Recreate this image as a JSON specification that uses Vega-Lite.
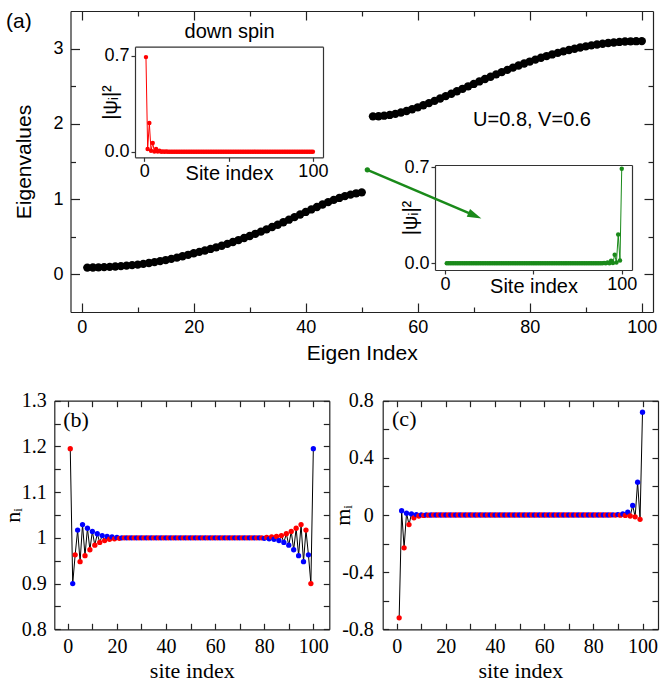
{
"$schema":"https://vega.github.io/schema/vega-lite/v6.json",
"width":663,"height":682,"autosize":"none","padding":0,"background":"white",
"config":{"view":{"stroke":null},"axis":{"grid":false,"ticks":true,"tickOpacity":1,"labelFlush":false,"labelOverlap":false,"domainColor":"#222","tickColor":"#222","labelColor":"#000","titleColor":"#000","titleFontWeight":"normal","labelFont":"Liberation Sans","titleFont":"Liberation Sans","domainWidth":1.2,"tickWidth":1.2}},
"datasets":{
"eig":[{"n":1,"E":0.090},{"n":2,"E":0.091},{"n":3,"E":0.093},{"n":4,"E":0.096},{"n":5,"E":0.100},{"n":6,"E":0.105},{"n":7,"E":0.110},{"n":8,"E":0.116},{"n":9,"E":0.123},{"n":10,"E":0.130},{"n":11,"E":0.140},{"n":12,"E":0.151},{"n":13,"E":0.163},{"n":14,"E":0.176},{"n":15,"E":0.190},{"n":16,"E":0.206},{"n":17,"E":0.223},{"n":18,"E":0.241},{"n":19,"E":0.260},{"n":20,"E":0.280},{"n":21,"E":0.299},{"n":22,"E":0.318},{"n":23,"E":0.338},{"n":24,"E":0.359},{"n":25,"E":0.380},{"n":26,"E":0.405},{"n":27,"E":0.430},{"n":28,"E":0.456},{"n":29,"E":0.483},{"n":30,"E":0.510},{"n":31,"E":0.539},{"n":32,"E":0.568},{"n":33,"E":0.598},{"n":34,"E":0.629},{"n":35,"E":0.660},{"n":36,"E":0.693},{"n":37,"E":0.727},{"n":38,"E":0.761},{"n":39,"E":0.795},{"n":40,"E":0.830},{"n":41,"E":0.863},{"n":42,"E":0.896},{"n":43,"E":0.928},{"n":44,"E":0.960},{"n":45,"E":0.990},{"n":46,"E":1.016},{"n":47,"E":1.040},{"n":48,"E":1.060},{"n":49,"E":1.077},{"n":50,"E":1.090},
{"n":52,"E":2.100},{"n":53,"E":2.102},{"n":54,"E":2.109},{"n":55,"E":2.119},{"n":56,"E":2.133},{"n":57,"E":2.151},{"n":58,"E":2.171},{"n":59,"E":2.194},{"n":60,"E":2.220},{"n":61,"E":2.247},{"n":62,"E":2.276},{"n":63,"E":2.306},{"n":64,"E":2.337},{"n":65,"E":2.369},{"n":66,"E":2.401},{"n":67,"E":2.433},{"n":68,"E":2.466},{"n":69,"E":2.499},{"n":70,"E":2.531},{"n":71,"E":2.564},{"n":72,"E":2.596},{"n":73,"E":2.627},{"n":74,"E":2.658},{"n":75,"E":2.688},{"n":76,"E":2.718},{"n":77,"E":2.747},{"n":78,"E":2.775},{"n":79,"E":2.802},{"n":80,"E":2.828},{"n":81,"E":2.854},{"n":82,"E":2.878},{"n":83,"E":2.901},{"n":84,"E":2.923},{"n":85,"E":2.944},{"n":86,"E":2.963},{"n":87,"E":2.982},{"n":88,"E":2.999},{"n":89,"E":3.015},{"n":90,"E":3.030},{"n":91,"E":3.043},{"n":92,"E":3.055},{"n":93,"E":3.065},{"n":94,"E":3.074},{"n":95,"E":3.082},{"n":96,"E":3.089},{"n":97,"E":3.094},{"n":98,"E":3.097},{"n":99,"E":3.099},{"n":100,"E":3.100}],
"psi":[{"site":1,"down":0.69,"up":0},{"site":2,"down":0.02,"up":0},{"site":3,"down":0.21,"up":0},{"site":4,"down":0.006,"up":0},{"site":5,"down":0.063,"up":0},{"site":6,"down":0.002,"up":0},{"site":7,"down":0.019,"up":0},{"site":8,"down":0.0006,"up":0},{"site":9,"down":0.006,"up":0},{"site":10,"down":0.0002,"up":0},{"site":11,"down":0.002,"up":0},{"site":12,"down":0,"up":0},{"site":13,"down":0.0006,"up":0},{"site":14,"down":0,"up":0},{"site":15,"down":0,"up":0},{"site":16,"down":0,"up":0},{"site":17,"down":0,"up":0},{"site":18,"down":0,"up":0},{"site":19,"down":0,"up":0},{"site":20,"down":0,"up":0},{"site":21,"down":0,"up":0},{"site":22,"down":0,"up":0},{"site":23,"down":0,"up":0},{"site":24,"down":0,"up":0},{"site":25,"down":0,"up":0},{"site":26,"down":0,"up":0},{"site":27,"down":0,"up":0},{"site":28,"down":0,"up":0},{"site":29,"down":0,"up":0},{"site":30,"down":0,"up":0},{"site":31,"down":0,"up":0},{"site":32,"down":0,"up":0},{"site":33,"down":0,"up":0},{"site":34,"down":0,"up":0},{"site":35,"down":0,"up":0},{"site":36,"down":0,"up":0},{"site":37,"down":0,"up":0},{"site":38,"down":0,"up":0},{"site":39,"down":0,"up":0},{"site":40,"down":0,"up":0},{"site":41,"down":0,"up":0},{"site":42,"down":0,"up":0},{"site":43,"down":0,"up":0},{"site":44,"down":0,"up":0},{"site":45,"down":0,"up":0},{"site":46,"down":0,"up":0},{"site":47,"down":0,"up":0},{"site":48,"down":0,"up":0},{"site":49,"down":0,"up":0},{"site":50,"down":0,"up":0},{"site":51,"down":0,"up":0},{"site":52,"down":0,"up":0},{"site":53,"down":0,"up":0},{"site":54,"down":0,"up":0},{"site":55,"down":0,"up":0},{"site":56,"down":0,"up":0},{"site":57,"down":0,"up":0},{"site":58,"down":0,"up":0},{"site":59,"down":0,"up":0},{"site":60,"down":0,"up":0},{"site":61,"down":0,"up":0},{"site":62,"down":0,"up":0},{"site":63,"down":0,"up":0},{"site":64,"down":0,"up":0},{"site":65,"down":0,"up":0},{"site":66,"down":0,"up":0},{"site":67,"down":0,"up":0},{"site":68,"down":0,"up":0},{"site":69,"down":0,"up":0},{"site":70,"down":0,"up":0},{"site":71,"down":0,"up":0},{"site":72,"down":0,"up":0},{"site":73,"down":0,"up":0},{"site":74,"down":0,"up":0},{"site":75,"down":0,"up":0},{"site":76,"down":0,"up":0},{"site":77,"down":0,"up":0},{"site":78,"down":0,"up":0},{"site":79,"down":0,"up":0},{"site":80,"down":0,"up":0},{"site":81,"down":0,"up":0},{"site":82,"down":0,"up":0},{"site":83,"down":0,"up":0},{"site":84,"down":0,"up":0},{"site":85,"down":0,"up":0},{"site":86,"down":0,"up":0},{"site":87,"down":0,"up":0},{"site":88,"down":0,"up":0.0006},{"site":89,"down":0,"up":0},{"site":90,"down":0,"up":0.002},{"site":91,"down":0,"up":0.0002},{"site":92,"down":0,"up":0.006},{"site":93,"down":0,"up":0.0006},{"site":94,"down":0,"up":0.019},{"site":95,"down":0,"up":0.002},{"site":96,"down":0,"up":0.063},{"site":97,"down":0,"up":0.006},{"site":98,"down":0,"up":0.21},{"site":99,"down":0,"up":0.02},{"site":100,"down":0,"up":0.69}],
"nm":[{"site":1,"n":1.195,"m":-0.72,"sub":"A"},{"site":2,"n":0.900,"m":0.03,"sub":"B"},{"site":3,"n":0.963,"m":-0.23,"sub":"A"},{"site":4,"n":1.017,"m":0.013,"sub":"B"},{"site":5,"n":0.948,"m":-0.067,"sub":"A"},{"site":6,"n":1.029,"m":0.007,"sub":"B"},{"site":7,"n":0.961,"m":-0.02,"sub":"A"},{"site":8,"n":1.021,"m":0.003,"sub":"B"},{"site":9,"n":0.974,"m":-0.007,"sub":"A"},{"site":10,"n":1.014,"m":0.001,"sub":"B"},{"site":11,"n":0.984,"m":-0.003,"sub":"A"},{"site":12,"n":1.009,"m":0.0005,"sub":"B"},{"site":13,"n":0.990,"m":-0.001,"sub":"A"},{"site":14,"n":1.005,"m":0,"sub":"B"},{"site":15,"n":0.994,"m":0,"sub":"A"},{"site":16,"n":1.003,"m":0,"sub":"B"},{"site":17,"n":0.997,"m":0,"sub":"A"},{"site":18,"n":1.002,"m":0,"sub":"B"},{"site":19,"n":0.998,"m":0,"sub":"A"},{"site":20,"n":1.001,"m":0,"sub":"B"},{"site":21,"n":0.999,"m":0,"sub":"A"},{"site":22,"n":1.0,"m":0,"sub":"B"},{"site":23,"n":1.0,"m":0,"sub":"A"},{"site":24,"n":1.0,"m":0,"sub":"B"},{"site":25,"n":1.0,"m":0,"sub":"A"},{"site":26,"n":1.0,"m":0,"sub":"B"},{"site":27,"n":1.0,"m":0,"sub":"A"},{"site":28,"n":1.0,"m":0,"sub":"B"},{"site":29,"n":1.0,"m":0,"sub":"A"},{"site":30,"n":1.0,"m":0,"sub":"B"},{"site":31,"n":1.0,"m":0,"sub":"A"},{"site":32,"n":1.0,"m":0,"sub":"B"},{"site":33,"n":1.0,"m":0,"sub":"A"},{"site":34,"n":1.0,"m":0,"sub":"B"},{"site":35,"n":1.0,"m":0,"sub":"A"},{"site":36,"n":1.0,"m":0,"sub":"B"},{"site":37,"n":1.0,"m":0,"sub":"A"},{"site":38,"n":1.0,"m":0,"sub":"B"},{"site":39,"n":1.0,"m":0,"sub":"A"},{"site":40,"n":1.0,"m":0,"sub":"B"},{"site":41,"n":1.0,"m":0,"sub":"A"},{"site":42,"n":1.0,"m":0,"sub":"B"},{"site":43,"n":1.0,"m":0,"sub":"A"},{"site":44,"n":1.0,"m":0,"sub":"B"},{"site":45,"n":1.0,"m":0,"sub":"A"},{"site":46,"n":1.0,"m":0,"sub":"B"},{"site":47,"n":1.0,"m":0,"sub":"A"},{"site":48,"n":1.0,"m":0,"sub":"B"},{"site":49,"n":1.0,"m":0,"sub":"A"},{"site":50,"n":1.0,"m":0,"sub":"B"},{"site":51,"n":1.0,"m":0,"sub":"A"},{"site":52,"n":1.0,"m":0,"sub":"B"},{"site":53,"n":1.0,"m":0,"sub":"A"},{"site":54,"n":1.0,"m":0,"sub":"B"},{"site":55,"n":1.0,"m":0,"sub":"A"},{"site":56,"n":1.0,"m":0,"sub":"B"},{"site":57,"n":1.0,"m":0,"sub":"A"},{"site":58,"n":1.0,"m":0,"sub":"B"},{"site":59,"n":1.0,"m":0,"sub":"A"},{"site":60,"n":1.0,"m":0,"sub":"B"},{"site":61,"n":1.0,"m":0,"sub":"A"},{"site":62,"n":1.0,"m":0,"sub":"B"},{"site":63,"n":1.0,"m":0,"sub":"A"},{"site":64,"n":1.0,"m":0,"sub":"B"},{"site":65,"n":1.0,"m":0,"sub":"A"},{"site":66,"n":1.0,"m":0,"sub":"B"},{"site":67,"n":1.0,"m":0,"sub":"A"},{"site":68,"n":1.0,"m":0,"sub":"B"},{"site":69,"n":1.0,"m":0,"sub":"A"},{"site":70,"n":1.0,"m":0,"sub":"B"},{"site":71,"n":1.0,"m":0,"sub":"A"},{"site":72,"n":1.0,"m":0,"sub":"B"},{"site":73,"n":1.0,"m":0,"sub":"A"},{"site":74,"n":1.0,"m":0,"sub":"B"},{"site":75,"n":1.0,"m":0,"sub":"A"},{"site":76,"n":1.0,"m":0,"sub":"B"},{"site":77,"n":1.0,"m":0,"sub":"A"},{"site":78,"n":1.0,"m":0,"sub":"B"},{"site":79,"n":1.0,"m":0,"sub":"A"},{"site":80,"n":0.999,"m":0,"sub":"B"},{"site":81,"n":1.001,"m":0,"sub":"A"},{"site":82,"n":0.998,"m":0,"sub":"B"},{"site":83,"n":1.002,"m":0,"sub":"A"},{"site":84,"n":0.997,"m":0,"sub":"B"},{"site":85,"n":1.003,"m":0,"sub":"A"},{"site":86,"n":0.994,"m":0,"sub":"B"},{"site":87,"n":1.005,"m":0,"sub":"A"},{"site":88,"n":0.990,"m":0.001,"sub":"B"},{"site":89,"n":1.009,"m":-0.0005,"sub":"A"},{"site":90,"n":0.984,"m":0.003,"sub":"B"},{"site":91,"n":1.014,"m":-0.001,"sub":"A"},{"site":92,"n":0.974,"m":0.007,"sub":"B"},{"site":93,"n":1.021,"m":-0.003,"sub":"A"},{"site":94,"n":0.961,"m":0.02,"sub":"B"},{"site":95,"n":1.029,"m":-0.007,"sub":"A"},{"site":96,"n":0.948,"m":0.067,"sub":"B"},{"site":97,"n":1.017,"m":-0.013,"sub":"A"},{"site":98,"n":0.963,"m":0.23,"sub":"B"},{"site":99,"n":0.900,"m":-0.03,"sub":"A"},{"site":100,"n":1.195,"m":0.72,"sub":"B"}]
},
"layer":[
{
"data":{"name":"eig"},
"encoding":{
"x":{"field":"n","type":"quantitative","scale":{"domain":[-2,102],"range":[70.5,653],"nice":false,"zero":false},"axis":{"orient":"bottom","offset":-370,"values":[0,20,40,60,80,100],"ticks":false,"labelPadding":6,"labelFontSize":18,"title":"Eigen Index","titleFontSize":21,"titlePadding":6}},
"y":{"field":"E","type":"quantitative","scale":{"domain":[-0.5,3.5],"range":[312,11],"nice":false,"zero":false},"axis":{"orient":"left","offset":-70.5,"values":[0,1,2,3],"ticks":false,"labelPadding":7.5,"labelFontSize":18,"title":"Eigenvalues","titleFontSize":21,"titlePadding":18}}
},
"layer":[
{"mark":{"type":"circle","size":70,"color":"#000","opacity":1}},
{"mark":{"type":"circle","opacity":0},"encoding":{
"x":{"field":"n","type":"quantitative","scale":{"domain":[-2,102],"range":[70.5,653],"nice":false,"zero":false},"axis":{"orient":"top","offset":-312,"values":[0,20,40,60,80,100],"ticks":true,"tickSize":9,"tickColor":"#222","tickWidth":1.2,"labels":false,"domain":false,"title":null}},
"y":{"field":"E","type":"quantitative","scale":{"domain":[-0.5,3.5],"range":[312,11],"nice":false,"zero":false},"axis":{"orient":"right","offset":-592.5,"values":[0,1,2,3],"ticks":true,"tickSize":9,"tickColor":"#222","tickWidth":1.2,"labels":false,"domain":false,"title":null}}}},
{"mark":{"type":"circle","opacity":0},"encoding":{
"x":{"field":"n","type":"quantitative","scale":{"domain":[-2,102],"range":[70.5,653],"nice":false,"zero":false},"axis":{"orient":"top","offset":-312,"values":[10,30,50,70,90],"ticks":true,"tickSize":5,"tickColor":"#222","tickWidth":1.2,"labels":false,"domain":false,"title":null}},
"y":{"field":"E","type":"quantitative","scale":{"domain":[-0.5,3.5],"range":[312,11],"nice":false,"zero":false},"axis":{"orient":"right","offset":-592.5,"values":[0.5,1.5,2.5],"ticks":true,"tickSize":5,"tickColor":"#222","tickWidth":1.2,"labels":false,"domain":false,"title":null}}}},
{"mark":{"type":"circle","opacity":0},"encoding":{
"x":{"field":"n","type":"quantitative","scale":{"domain":[-2,102],"range":[70.5,653],"nice":false,"zero":false},"axis":{"orient":"bottom","offset":-671,"values":[0,20,40,60,80,100],"ticks":true,"tickSize":9,"tickColor":"#222","tickWidth":1.2,"labels":false,"domain":true,"title":null}},
"y":{"field":"E","type":"quantitative","scale":{"domain":[-0.5,3.5],"range":[312,11],"nice":false,"zero":false},"axis":{"orient":"left","offset":-653,"values":[0,1,2,3],"ticks":true,"tickSize":9,"tickColor":"#222","tickWidth":1.2,"labels":false,"domain":true,"title":null}}}},
{"mark":{"type":"circle","opacity":0},"encoding":{
"x":{"field":"n","type":"quantitative","scale":{"domain":[-2,102],"range":[70.5,653],"nice":false,"zero":false},"axis":{"orient":"bottom","offset":-671,"values":[10,30,50,70,90],"ticks":true,"tickSize":5,"tickColor":"#222","tickWidth":1.2,"labels":false,"domain":false,"title":null}},
"y":{"field":"E","type":"quantitative","scale":{"domain":[-0.5,3.5],"range":[312,11],"nice":false,"zero":false},"axis":{"orient":"left","offset":-653,"values":[0.5,1.5,2.5],"ticks":true,"tickSize":5,"tickColor":"#222","tickWidth":1.2,"labels":false,"domain":false,"title":null}}}},
{"data":{"values":[{"n":51,"E":1.39,"n2":70.2,"E2":0.78}]},"mark":{"type":"rule","color":"#1a8a1a","strokeWidth":2.5},"encoding":{
"x":{"field":"n","type":"quantitative","axis":null},"y":{"field":"E","type":"quantitative","axis":null},"x2":{"field":"n2"},"y2":{"field":"E2"}}},
{"data":{"values":[{"n":51,"E":1.39}]},"mark":{"type":"circle","size":28,"color":"#1a8a1a","opacity":1},"encoding":{
"x":{"field":"n","type":"quantitative","axis":null},"y":{"field":"E","type":"quantitative","axis":null}}},
{"data":{"values":[{"n":70.2,"E":0.78}]},"mark":{"type":"point","shape":"M1,0L-1,-0.6L-1,0.6Z","size":200,"angle":23,"filled":true,"color":"#1a8a1a","opacity":1},"encoding":{
"x":{"field":"n","type":"quantitative","axis":null},"y":{"field":"E","type":"quantitative","axis":null}}},
{"data":{"values":[{"n":80.4,"E":2.05,"label":"U=0.8, V=0.6"},{"n":26.4,"E":3.22,"label":"down spin"}]},"mark":{"type":"text","font":"Liberation Sans","fontSize":20,"align":"center","baseline":"middle","color":"#000"},"encoding":{
"x":{"field":"n","type":"quantitative","axis":null},"y":{"field":"E","type":"quantitative","axis":null},"text":{"field":"label"}}},
{"data":{"values":[{"n":-13.5,"E":3.35,"label":"(a)"}]},"mark":{"type":"text","font":"Liberation Sans","fontSize":21,"align":"left","baseline":"middle","color":"#000"},"encoding":{
"x":{"field":"n","type":"quantitative","axis":null},"y":{"field":"E","type":"quantitative","axis":null},"text":{"field":"label"}}}
],
"resolve":{"axis":{"x":"independent","y":"independent"}}
},
{
"data":{"name":"psi"},
"encoding":{
"x":{"field":"site","type":"quantitative","scale":{"domain":[-5.5,106],"range":[135,323],"nice":false,"zero":false},"axis":{"orient":"bottom","offset":-524.7,"values":[0,50,100],"labelExpr":"datum.value == 50 ? '' : datum.label","ticks":true,"tickSize":4,"tickColor":"#333","tickWidth":1.2,"labelPadding":1,"labelFontSize":18,"title":"Site index","titleFontSize":20,"titlePadding":-17,"domainColor":"#333"}},
"y":{"field":"down","type":"quantitative","scale":{"domain":[-0.041,0.766],"range":[157.3,46.7],"nice":false,"zero":false},"axis":{"orient":"left","offset":-135,"values":[0,0.7],"format":".1f","ticks":true,"tickSize":4,"tickColor":"#333","tickWidth":1.2,"labelPadding":2,"labelFontSize":18,"title":"|ψᵢ|²","titleFontSize":20,"titlePadding":-17,"domainColor":"#333"}}
},
"layer":[
{"mark":{"type":"line","color":"#ff0000","strokeWidth":1}},
{"mark":{"type":"circle","size":20,"color":"#ff0000","opacity":1},"encoding":{
"x":{"field":"site","type":"quantitative","scale":{"domain":[-5.5,106],"range":[135,323],"nice":false,"zero":false},"axis":{"orient":"top","offset":-46.7,"ticks":false,"labels":false,"title":null,"domainColor":"#333"}},
"y":{"field":"down","type":"quantitative","scale":{"domain":[-0.041,0.766],"range":[157.3,46.7],"nice":false,"zero":false},"axis":{"orient":"right","offset":-340,"ticks":false,"labels":false,"title":null,"domainColor":"#333"}}}}
],
"resolve":{"axis":{"x":"independent","y":"independent"}}
},
{
"data":{"name":"psi"},
"encoding":{
"x":{"field":"site","type":"quantitative","scale":{"domain":[-5.66,105.8],"range":[435,632],"nice":false,"zero":false},"axis":{"orient":"bottom","offset":-412,"values":[0,50,100],"labelExpr":"datum.value == 50 ? '' : datum.label","ticks":true,"tickSize":4,"tickColor":"#333","tickWidth":1.2,"labelPadding":1,"labelFontSize":18,"title":"Site index","titleFontSize":20,"titlePadding":-17,"domainColor":"#333"}},
"y":{"field":"up","type":"quantitative","scale":{"domain":[-0.049,0.717],"range":[270,165],"nice":false,"zero":false},"axis":{"orient":"left","offset":-435,"values":[0,0.7],"format":".1f","ticks":true,"tickSize":4,"tickColor":"#333","tickWidth":1.2,"labelPadding":2,"labelFontSize":18,"title":"|ψᵢ|²","titleFontSize":20,"titlePadding":-17,"domainColor":"#333"}}
},
"layer":[
{"mark":{"type":"line","color":"#1a8a1a","strokeWidth":1}},
{"mark":{"type":"circle","size":20,"color":"#1a8a1a","opacity":1},"encoding":{
"x":{"field":"site","type":"quantitative","scale":{"domain":[-5.66,105.8],"range":[435,632],"nice":false,"zero":false},"axis":{"orient":"top","offset":-165,"ticks":false,"labels":false,"title":null,"domainColor":"#333"}},
"y":{"field":"up","type":"quantitative","scale":{"domain":[-0.049,0.717],"range":[270,165],"nice":false,"zero":false},"axis":{"orient":"right","offset":-31,"ticks":false,"labels":false,"title":null,"domainColor":"#333"}}}}
],
"resolve":{"axis":{"x":"independent","y":"independent"}}
},
{
"data":{"name":"nm"},
"encoding":{
"x":{"field":"site","type":"quantitative","scale":{"domain":[-5.5,106.5],"range":[54.3,329.3],"nice":false,"zero":false},"axis":{"orient":"bottom","offset":-52.7,"values":[0,20,40,60,80,100],"ticks":false,"labelPadding":7,"labelFont":"Liberation Serif","labelFontSize":20,"title":"site index","titleFont":"Liberation Serif","titleFontSize":22,"titlePadding":4}},
"y":{"field":"n","type":"quantitative","scale":{"domain":[0.8,1.3],"range":[629.3,400.7],"nice":false,"zero":false},"axis":{"orient":"left","offset":-54.3,"values":[0.8,0.9,1,1.1,1.2,1.3],"labelExpr":"toString(datum.value)","ticks":false,"labelPadding":8,"labelFont":"Liberation Serif","labelFontSize":20,"title":"nᵢ","titleFont":"Liberation Serif","titleFontSize":22,"titlePadding":-3}}
},
"layer":[
{"mark":{"type":"line","color":"#000","strokeWidth":1}},
{"mark":{"type":"circle","size":28,"opacity":1},"encoding":{
"x":{"field":"site","type":"quantitative","scale":{"domain":[-5.5,106.5],"range":[54.3,329.3],"nice":false,"zero":false},"axis":{"orient":"top","offset":-629.3,"values":[0,10,20,30,40,50,60,70,80,90,100],"ticks":true,"tickSize":6,"tickColor":"#222","tickWidth":1.2,"labels":false,"domain":false,"title":null}},
"y":{"field":"n","type":"quantitative","scale":{"domain":[0.8,1.3],"range":[629.3,400.7],"nice":false,"zero":false},"axis":{"orient":"right","offset":-608.7,"values":[0.8,0.85,0.9,0.95,1,1.05,1.1,1.15,1.2,1.25,1.3],"ticks":true,"tickSize":6,"tickColor":"#222","tickWidth":1.2,"labels":false,"domain":false,"title":null}},
"color":{"field":"sub","type":"nominal","scale":{"domain":["A","B"],"range":["#ff0000","#0000ff"]},"legend":null}}},
{"mark":{"type":"circle","opacity":0},"encoding":{
"x":{"field":"site","type":"quantitative","scale":{"domain":[-5.5,106.5],"range":[54.3,329.3],"nice":false,"zero":false},"axis":{"orient":"bottom","offset":-281.3,"values":[0,10,20,30,40,50,60,70,80,90,100],"ticks":true,"tickSize":6,"tickColor":"#222","tickWidth":1.2,"labels":false,"domain":true,"title":null}},
"y":{"field":"n","type":"quantitative","scale":{"domain":[0.8,1.3],"range":[629.3,400.7],"nice":false,"zero":false},"axis":{"orient":"left","offset":-329.3,"values":[0.8,0.85,0.9,0.95,1,1.05,1.1,1.15,1.2,1.25,1.3],"ticks":true,"tickSize":6,"tickColor":"#222","tickWidth":1.2,"labels":false,"domain":true,"title":null}}}},
{"data":{"values":[{"site":-1.9,"n":1.258,"label":"(b)"}]},"mark":{"type":"text","font":"Liberation Serif","fontSize":22,"align":"left","baseline":"middle","color":"#000"},"encoding":{
"x":{"field":"site","type":"quantitative","axis":null},"y":{"field":"n","type":"quantitative","axis":null},"text":{"field":"label"}}}
],
"resolve":{"axis":{"x":"independent","y":"independent"}}
},
{
"data":{"name":"nm"},
"encoding":{
"x":{"field":"site","type":"quantitative","scale":{"domain":[-5.7,106.3],"range":[382.7,658],"nice":false,"zero":false},"axis":{"orient":"bottom","offset":-52.7,"values":[0,20,40,60,80,100],"ticks":false,"labelPadding":7,"labelFont":"Liberation Serif","labelFontSize":20,"title":"site index","titleFont":"Liberation Serif","titleFontSize":22,"titlePadding":4}},
"y":{"field":"m","type":"quantitative","scale":{"domain":[-0.8,0.8],"range":[629.3,400.7],"nice":false,"zero":false},"axis":{"orient":"left","offset":-382.7,"values":[-0.8,-0.4,0,0.4,0.8],"labelExpr":"toString(datum.value)","ticks":false,"labelPadding":9.4,"labelFont":"Liberation Serif","labelFontSize":20,"title":"mᵢ","titleFont":"Liberation Serif","titleFontSize":22,"titlePadding":-12.5}}
},
"layer":[
{"mark":{"type":"line","color":"#000","strokeWidth":1}},
{"mark":{"type":"circle","size":28,"opacity":1},"encoding":{
"x":{"field":"site","type":"quantitative","scale":{"domain":[-5.7,106.3],"range":[382.7,658],"nice":false,"zero":false},"axis":{"orient":"top","offset":-629.3,"values":[0,10,20,30,40,50,60,70,80,90,100],"ticks":true,"tickSize":6,"tickColor":"#222","tickWidth":1.2,"labels":false,"domain":false,"title":null}},
"y":{"field":"m","type":"quantitative","scale":{"domain":[-0.8,0.8],"range":[629.3,400.7],"nice":false,"zero":false},"axis":{"orient":"right","offset":-280.3,"values":[-0.8,-0.6,-0.4,-0.2,0,0.2,0.4,0.6,0.8],"ticks":true,"tickSize":6,"tickColor":"#222","tickWidth":1.2,"labels":false,"domain":false,"title":null}},
"color":{"field":"sub","type":"nominal","scale":{"domain":["A","B"],"range":["#ff0000","#0000ff"]},"legend":null}}},
{"mark":{"type":"circle","opacity":0},"encoding":{
"x":{"field":"site","type":"quantitative","scale":{"domain":[-5.7,106.3],"range":[382.7,658],"nice":false,"zero":false},"axis":{"orient":"bottom","offset":-281.3,"values":[0,10,20,30,40,50,60,70,80,90,100],"ticks":true,"tickSize":6,"tickColor":"#222","tickWidth":1.2,"labels":false,"domain":true,"title":null}},
"y":{"field":"m","type":"quantitative","scale":{"domain":[-0.8,0.8],"range":[629.3,400.7],"nice":false,"zero":false},"axis":{"orient":"left","offset":-658,"values":[-0.8,-0.6,-0.4,-0.2,0,0.2,0.4,0.6,0.8],"ticks":true,"tickSize":6,"tickColor":"#222","tickWidth":1.2,"labels":false,"domain":true,"title":null}}}},
{"data":{"values":[{"site":-1.9,"m":0.672,"label":"(c)"}]},"mark":{"type":"text","font":"Liberation Serif","fontSize":22,"align":"left","baseline":"middle","color":"#000"},"encoding":{
"x":{"field":"site","type":"quantitative","axis":null},"y":{"field":"m","type":"quantitative","axis":null},"text":{"field":"label"}}}
],
"resolve":{"axis":{"x":"independent","y":"independent"}}
}
],
"resolve":{"scale":{"x":"independent","y":"independent"},"axis":{"x":"independent","y":"independent"}}
}
